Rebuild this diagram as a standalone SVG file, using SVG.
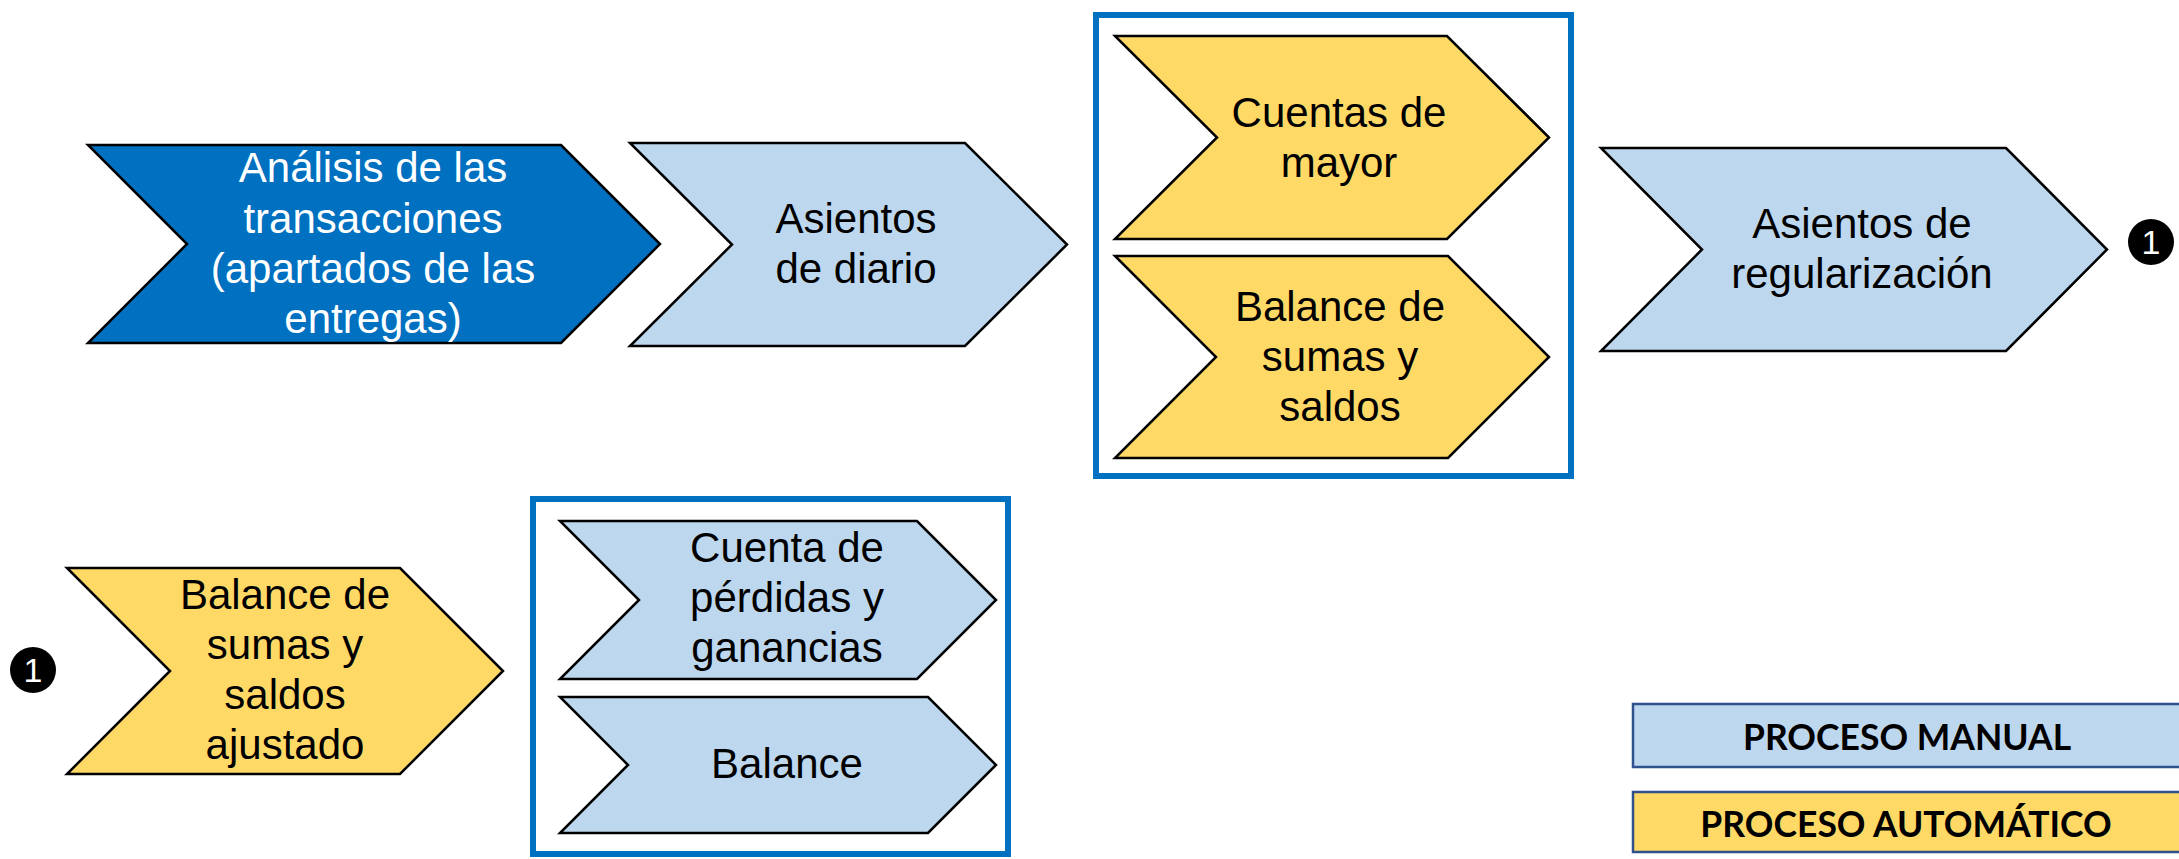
<svg xmlns="http://www.w3.org/2000/svg" width="2179" height="859" viewBox="0 0 2179 859">
<style>
.chev{stroke:#000;stroke-width:2.5;stroke-linejoin:miter}
.dark{fill:#0070C0}
.light{fill:#BDD7EE}
.yel{fill:#FFD966}
.lbl{font-family:"Liberation Sans",Arial,sans-serif;font-size:42px;text-anchor:middle;fill:#000}
.wht{fill:#fff}
.grp{fill:none;stroke:#0070C0;stroke-width:6}
.num{fill:#000}
.numt{font-family:"Liberation Sans",Arial,sans-serif;font-size:34px;text-anchor:middle;fill:#fff}
.leg{stroke:#2F528F;stroke-width:2.5}
.legt{font-family:Lato,"Open Sans",sans-serif;font-weight:bold;font-size:35.5px;text-anchor:middle;fill:#000}
</style>
<rect width="2179" height="859" fill="#fff"/>
<g id="group-boxes">
<rect class="grp" x="1096" y="15" width="475" height="461"/>
<rect class="grp" x="533" y="499" width="475" height="355"/>
</g>
<g id="connectors"></g>
<g id="n1">
<polygon class="chev dark" points="88,145 561,145 660,244 561,343 88,343 187,244"/>
<text class="lbl wht" x="373"><tspan x="373" y="182">Análisis de las</tspan><tspan x="373" y="233">transacciones</tspan><tspan x="373" y="283">(apartados de las</tspan><tspan x="373" y="333">entregas)</tspan></text>
</g>
<g id="n2">
<polygon class="chev light" points="630,143 965,143 1067,244.5 965,346 630,346 732,244.5"/>
<text class="lbl" x="856"><tspan x="856" y="233">Asientos</tspan><tspan x="856" y="283">de diario</tspan></text>
</g>
<g id="n3">
<polygon class="chev yel" points="1115,36 1447,36 1549,137.5 1447,239 1115,239 1217,137.5"/>
<text class="lbl" x="1339"><tspan x="1339" y="127">Cuentas de</tspan><tspan x="1339" y="177">mayor</tspan></text>
</g>
<g id="n4">
<polygon class="chev yel" points="1115,256 1448,256 1549,357 1448,458 1115,458 1216,357"/>
<text class="lbl" x="1340"><tspan x="1340" y="321">Balance de</tspan><tspan x="1340" y="371">sumas y</tspan><tspan x="1340" y="421">saldos</tspan></text>
</g>
<g id="n5">
<polygon class="chev light" points="1601,148 2006,148 2107,249.5 2006,351 1601,351 1702,249.5"/>
<text class="lbl" x="1862"><tspan x="1862" y="238">Asientos de</tspan><tspan x="1862" y="288">regularización</tspan></text>
</g>
<g id="m1">
<circle class="num" cx="2151" cy="242" r="23"/>
<text class="numt" x="2151" y="254">1</text>
</g>
<g id="m2">
<circle class="num" cx="33" cy="670" r="23"/>
<text class="numt" x="33" y="682">1</text>
</g>
<g id="n6">
<polygon class="chev yel" points="67,568 400,568 503,671 400,774 67,774 170,671"/>
<text class="lbl" x="285"><tspan x="285" y="609">Balance de</tspan><tspan x="285" y="659">sumas y</tspan><tspan x="285" y="709">saldos</tspan><tspan x="285" y="759">ajustado</tspan></text>
</g>
<g id="n7">
<polygon class="chev light" points="560,521 917,521 996,600 917,679 560,679 639,600"/>
<text class="lbl" x="787"><tspan x="787" y="562">Cuenta de</tspan><tspan x="787" y="612">pérdidas y</tspan><tspan x="787" y="662">ganancias</tspan></text>
</g>
<g id="n8">
<polygon class="chev light" points="560,697 928,697 996,765 928,833 560,833 628,765"/>
<text class="lbl" x="787" y="778">Balance</text>
</g>
<g id="legend">
<rect class="leg light" x="1633" y="704" width="560" height="63"/>
<text class="legt" x="1907" y="750">PROCESO MANUAL</text>
<rect class="leg yel" x="1633" y="792" width="560" height="60"/>
<text class="legt" x="1906" y="837">PROCESO AUTOMÁTICO</text>
</g>
</svg>
